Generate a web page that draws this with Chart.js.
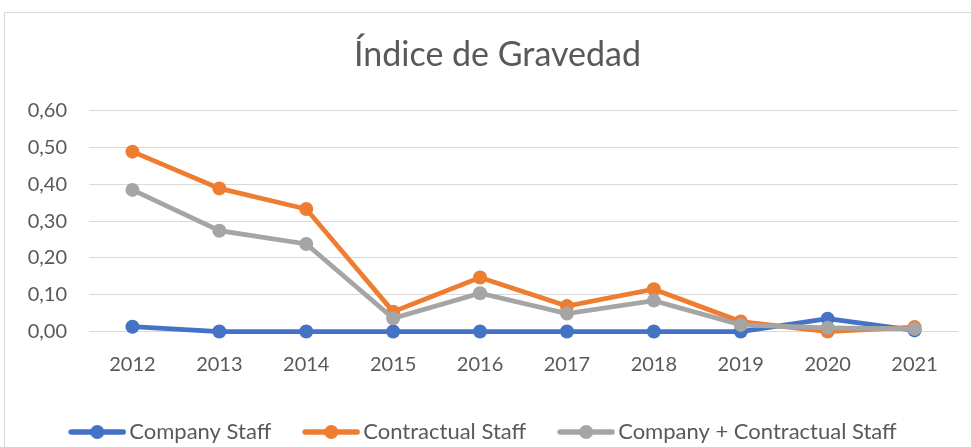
<!DOCTYPE html>
<html>
<head>
<meta charset="utf-8">
<script src="https://cdn.jsdelivr.net/npm/chart.js@4.4.1/dist/chart.umd.min.js"></script>
<style>
html,body{margin:0;padding:0;background:#fff;}
#wrap{width:971px;height:447px;position:relative;}
</style>
</head>
<body>
<div id="wrap"><canvas id="c" width="971" height="447"></canvas></div>
<script>
const years = ['2012','2013','2014','2015','2016','2017','2018','2019','2020','2021'];
const companyStaff = [0.013, 0.000, 0.000, 0.000, 0.000, 0.000, 0.000, 0.000, 0.035, 0.003];
const contractualStaff = [0.489, 0.389, 0.333, 0.054, 0.147, 0.069, 0.115, 0.027, 0.000, 0.012];
const combinedStaff = [0.385, 0.274, 0.238, 0.036, 0.104, 0.049, 0.084, 0.018, 0.010, 0.007];
const yTickLabels = ['0,00','0,10','0,20','0,30','0,40','0,50','0,60'];
const seriesNames = ['Company Staff','Contractual Staff','Company + Contractual Staff'];
const colors = ['#4472C4','#ED7D31','#A5A5A5'];

const FONT = 'Lato, "Open Sans", sans-serif';
const TXT = '#595959';

function legendIcon(color){
  const cv = document.createElement('canvas');
  cv.width = 58; cv.height = 16;
  const g = cv.getContext('2d');
  g.strokeStyle = color; g.lineWidth = 5.5; g.lineCap = 'round';
  g.beginPath(); g.moveTo(3,8); g.lineTo(55,8); g.stroke();
  g.fillStyle = color;
  g.beginPath(); g.arc(29,8,7,0,Math.PI*2); g.fill();
  return cv;
}
const icons = colors.map(legendIcon);

const borderPlugin = {
  id:'borderRect',
  beforeDraw(chart){
    const ctx = chart.ctx;
    ctx.save();
    ctx.strokeStyle = '#d9d9d9';
    ctx.lineWidth = 1;
    ctx.strokeRect(4.5, 12.5, 1100, 600);
    ctx.restore();
  }
};

// the original chart frame is wider than the window, so its title sits right of the window centre
const titleShift = {
  id:'titleShift',
  afterLayout(chart){
    if (chart.titleBlock){ chart.titleBlock.left += 11; chart.titleBlock.right += 11; }
  }
};

function ds(i, data, order){
  return {
    label: seriesNames[i],
    data: data,
    borderColor: colors[i],
    backgroundColor: colors[i],
    borderWidth: 4.75,
    pointRadius: 7,
    pointHoverRadius: 7,
    pointBorderWidth: 0,
    pointBackgroundColor: colors[i],
    tension: 0,
    clip: false,
    order: order
  };
}

new Chart(document.getElementById('c'), {
  type: 'line',
  data: {
    labels: years,
    datasets: [ds(0, companyStaff, 2), ds(1, contractualStaff, 1), ds(2, combinedStaff, 0)]
  },
  options: {
    responsive: false,
    animation: false,
    devicePixelRatio: 1,
    layout: { padding: { left: 15, right: 13, top: 0, bottom: -6 } },
    plugins: {
      title: {
        display: true,
        text: 'Índice de Gravedad',
        color: TXT,
        font: { family: FONT, size: 34, weight: '400', lineHeight: 1.2 },
        padding: { top: 35, bottom: 35 }
      },
      legend: {
        position: 'bottom',
        labels: {
          usePointStyle: true,
          pointStyleWidth: 42,
          padding: 39,
          color: TXT,
          font: { family: FONT, size: 22 },
          generateLabels(chart){
            return chart.data.datasets.map((d, i) => ({
              text: d.label,
              fillStyle: colors[i],
              strokeStyle: colors[i],
              lineWidth: 0,
              pointStyle: icons[i],
              hidden: false,
              datasetIndex: i,
              fontColor: TXT
            }));
          }
        }
      },
      tooltip: { enabled: false }
    },
    scales: {
      x: {
        offset: true,
        grid: { display: false, drawTicks: false },
        border: { display: false },
        ticks: { color: TXT, font: { family: FONT, size: 20 }, padding: 21, maxRotation: 0, autoSkip: false },
        afterFit(scale){ scale.height = 50.5; }
      },
      y: {
        min: 0, max: 0.6,
        grid: { color: '#d9d9d9', lineWidth: 1, drawTicks: false },
        border: { display: false },
        ticks: {
          stepSize: 0.1,
          color: TXT,
          font: { family: FONT, size: 20 },
          padding: 22,
          callback(value, index){ return yTickLabels[index]; }
        },
        afterFit(scale){ scale.width = 74; }
      }
    }
  },
  plugins: [borderPlugin, titleShift]
});
</script>
</body>
</html>
